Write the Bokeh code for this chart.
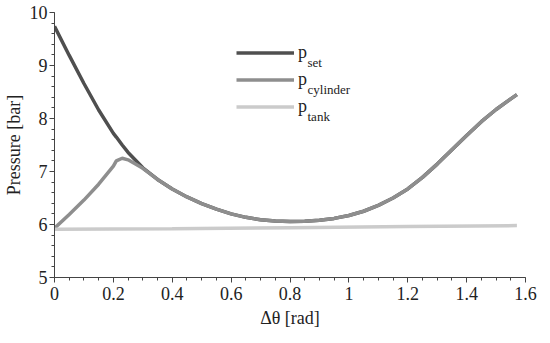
from bokeh.plotting import figure
from bokeh.models import Legend, LegendItem, Label, Range1d, FixedTicker
from bokeh.embed import file_html
from bokeh.resources import INLINE

# ---- data ----
theta = [0.00, 0.05, 0.10, 0.15, 0.20, 0.21, 0.23, 0.25, 0.30, 0.35, 0.40, 0.45,
         0.50, 0.55, 0.60, 0.65, 0.70, 0.75, 0.80, 0.85, 0.90, 0.95, 1.00, 1.05,
         1.10, 1.15, 1.20, 1.25, 1.30, 1.35, 1.40, 1.45, 1.50, 1.55, 1.5708]
p_set = [9.74, 9.19, 8.66, 8.16, 7.72, 7.65, 7.50, 7.36, 7.07, 6.85, 6.67, 6.52,
         6.395, 6.29, 6.20, 6.135, 6.09, 6.065, 6.055, 6.06, 6.08, 6.115, 6.17, 6.25,
         6.36, 6.50, 6.67, 6.89, 7.14, 7.41, 7.68, 7.94, 8.17, 8.37, 8.45]
p_cylinder = [5.93, 6.19, 6.46, 6.76, 7.10, 7.20, 7.25, 7.22, 7.06, 6.85, 6.67, 6.52,
              6.395, 6.29, 6.20, 6.135, 6.09, 6.065, 6.055, 6.06, 6.08, 6.115, 6.17, 6.25,
              6.36, 6.50, 6.67, 6.89, 7.14, 7.41, 7.68, 7.94, 8.17, 8.37, 8.45]
theta_tank = [0.0, 0.4, 0.8, 1.2, 1.5708]
p_tank = [5.91, 5.92, 5.94, 5.96, 5.98]

x_ticks = [0, 0.2, 0.4, 0.6, 0.8, 1.0, 1.2, 1.4, 1.6]
x_tick_labels = ["0", "0.2", "0.4", "0.6", "0.8", "1", "1.2", "1.4", "1.6"]
y_ticks = [5, 6, 7, 8, 9, 10]
series_names = ["p", "p", "p"]
subscripts = ["set", "cylinder", "tank"]
colors = ["#4f4f4f", "#8e8e8e", "#cbcbcb"]

FONT = "Liberation Serif"
TXT = "#222222"

p = figure(width=542, height=335, output_backend="svg", toolbar_location=None,
           x_range=Range1d(0, 1.6), y_range=Range1d(5, 10),
           min_border_left=48, min_border_right=17, min_border_top=12, min_border_bottom=58)
p.outline_line_color = None
p.xgrid.visible = False
p.ygrid.visible = False
p.background_fill_color = "white"

r_set = p.line(theta, p_set, line_color=colors[0], line_width=3.5)
r_cyl = p.line(theta, p_cylinder, line_color=colors[1], line_width=3.5)
r_tank = p.line(theta_tank, p_tank, line_color=colors[2], line_width=3.5)

for ax in (p.xaxis[0], p.yaxis[0]):
    ax.axis_line_color = "#444444"
    ax.major_tick_line_color = "#444444"
    ax.minor_tick_line_color = "#444444"
    ax.major_tick_in = 0
    ax.major_tick_out = 5
    ax.minor_tick_in = 0
    ax.minor_tick_out = 3
    ax.major_label_text_font = FONT
    ax.major_label_text_font_size = "18px"
    ax.major_label_text_color = TXT
    ax.axis_label_text_font = FONT
    ax.axis_label_text_font_size = "18px"
    ax.axis_label_text_font_style = "normal"
    ax.axis_label_text_color = TXT

p.xaxis.ticker = FixedTicker(ticks=x_ticks, minor_ticks=[i * 0.05 for i in range(33)])
p.xaxis.major_label_overrides = {t: l for t, l in zip(x_ticks, x_tick_labels)}
p.yaxis.ticker = FixedTicker(ticks=y_ticks, minor_ticks=[5 + i * 0.2 for i in range(26)])
p.xaxis.axis_label = "Δθ [rad]"
p.yaxis.axis_label = "Pressure [bar]"
p.xaxis.major_label_standoff = 4
p.xaxis.axis_label_standoff = 5
p.yaxis.major_label_standoff = 2
p.yaxis.axis_label_standoff = 3

legend = Legend(items=[LegendItem(label=series_names[0], renderers=[r_set]),
                       LegendItem(label=series_names[1], renderers=[r_cyl]),
                       LegendItem(label=series_names[2], renderers=[r_tank])],
                location=(182, 157), glyph_width=58, glyph_height=27, label_height=27,
                spacing=0, padding=0, margin=0, border_line_color=None,
                background_fill_alpha=0, label_standoff=4,
                label_text_font=FONT, label_text_font_size="18px", label_text_color=TXT)
p.add_layout(legend)

for i, s in enumerate(subscripts):
    p.add_layout(Label(x=253, y=214.6 - 27 * i, x_units="screen", y_units="screen",
                       text=s, text_font=FONT, text_font_size="13px", text_color=TXT,
                       text_baseline="alphabetic"))

open("out.html", "w").write(file_html(p, INLINE))
